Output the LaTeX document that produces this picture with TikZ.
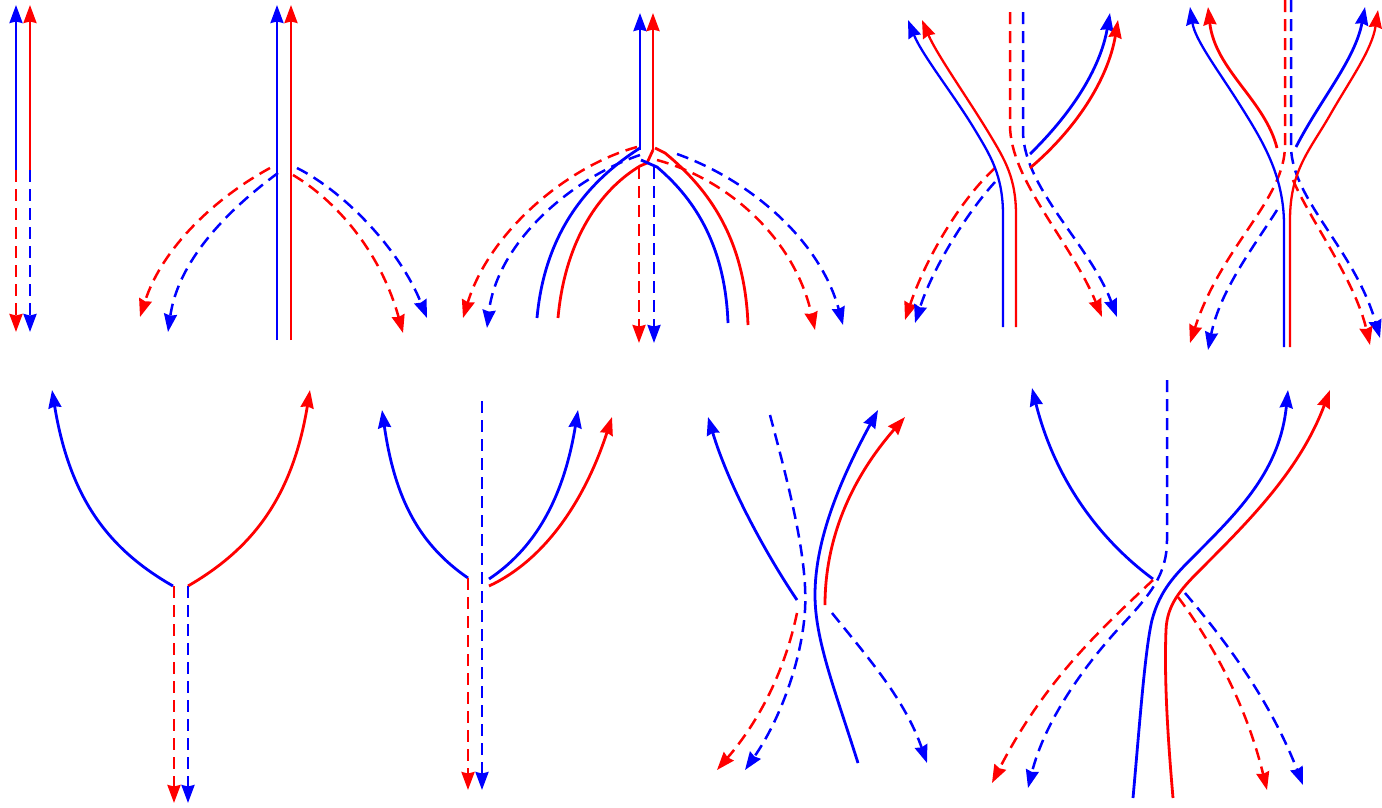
\documentclass[tikz,border=0pt]{standalone}
\usetikzlibrary{arrows.meta}
\begin{document}
\begin{tikzpicture}[x=1pt,y=-1pt,
  sol/.style={line width=2.8pt},
  vline/.style={line width=2.3pt},
  dsh/.style={line width=2.5pt, dash pattern=on 12pt off 7pt},
  tip/.style={-{Stealth[length=18pt,width=13pt,inset=1.5pt]}},
  every path/.style={line cap=butt}]
\useasboundingbox (0,0) rectangle (1382,807);
% ---------------- Panel 1 ----------------
\coordinate (p1b) at (16,170); \coordinate (p1r) at (30,170);
\draw[vline,blue,tip] (p1b) -- (16,5);
\draw[vline,red,tip] (p1r) -- (30,5);
\draw[dsh,red,tip] (p1b) -- (16,332);
\draw[dsh,blue,tip] (p1r) -- (30,332);
% ---------------- Panel 2 ----------------
\draw[vline,blue,tip] (277,340) -- (277,5);
\draw[vline,red,tip] (291,340) -- (291,5);
\draw[dsh,red,tip] (270,168) .. controls (215,198) and (162,248) .. (140,317);
\draw[dsh,blue,tip] (278,173) .. controls (225,212) and (178,262) .. (168,332);
\draw[dsh,blue,tip] (297,168) .. controls (345,192) and (400,250) .. (427,318);
\draw[dsh,red,tip] (293,175) .. controls (335,200) and (380,250) .. (403,333);
% ---------------- Panel 3 ----------------
\draw[dsh,red,tip] (637,147) .. controls (570,165) and (490,230) .. (463,318);
\draw[dsh,blue,tip] (640,155) .. controls (572,178) and (497,242) .. (487,328);
\draw[dsh,blue,tip] (677,154) .. controls (750,180) and (820,240) .. (843,325);
\draw[dsh,red,tip] (657,160) .. controls (730,180) and (795,240) .. (815,330);
\draw[dsh,red,tip] (639,167) -- (639,343);
\draw[dsh,blue,tip] (654,167) -- (654,343);
\draw[sol,blue,tip] (640,150) -- (640,13);
\draw[sol,red,tip] (653,150) -- (653,13);
\draw[sol,blue] (640,148) .. controls (590,180) and (545,230) .. (537,318);
\draw[sol,red] (653,150) -- (647,163) -- (640,166) .. controls (600,190) and (565,240) .. (558,318);
\draw[sol,blue] (641,160) -- (657,167) .. controls (690,195) and (725,240) .. (728,323);
\draw[sol,red] (655,148) -- (665,153) .. controls (710,190) and (745,240) .. (748,325);
% ---------------- Panel 4 ----------------
\draw[dsh,red,tip] (1010,12) -- (1010,125) .. controls (1010,180) and (1070,240) .. (1102,317);
\draw[dsh,blue,tip] (1023,12) -- (1023,133) .. controls (1025,190) and (1090,245) .. (1117,317);
\draw[dsh,red,tip] (995,168) .. controls (960,200) and (925,260) .. (905,320);
\draw[dsh,blue,tip] (995,182) .. controls (965,215) and (932,270) .. (915,323);
\draw[vline,blue,tip] (1003,327) -- (1003,215) .. controls (1003,175) and (990,155) .. (975,130)
   .. controls (954,95) and (922,55) .. (908,20);
\draw[vline,red,tip] (1016,327) -- (1016,215) .. controls (1016,178) and (1005,160) .. (990,135)
   .. controls (969,100) and (937,55) .. (922,20);
\draw[sol,blue,tip] (1030,154) .. controls (1070,115) and (1100,70) .. (1110,13);
\draw[sol,red,tip] (1030,168) .. controls (1075,130) and (1108,80) .. (1118,20);
% ---------------- Panel 5 ----------------
\draw[dsh,red,tip] (1285,0) -- (1285,145) .. controls (1285,200) and (1222,245) .. (1190,343);
\draw[dsh,blue,tip] (1291,0) -- (1291,147) .. controls (1292,200) and (1355,250) .. (1380,338);
\draw[dsh,blue,tip] (1277,210) .. controls (1255,245) and (1220,290) .. (1208,350);
\draw[dsh,red,tip] (1293,180) .. controls (1310,220) and (1355,280) .. (1370,345);
\draw[vline,blue,tip] (1284,347) -- (1284,225) .. controls (1284,175) and (1262,140) .. (1240,105)
   .. controls (1218,70) and (1195,40) .. (1190,7);
\draw[sol,red,tip] (1277,148) .. controls (1265,100) and (1215,70) .. (1208,7);
\draw[sol,blue,tip] (1296,147) .. controls (1320,100) and (1355,60) .. (1365,7);
\draw[vline,red,tip] (1290,347) -- (1290,220) .. controls (1290,170) and (1310,150) .. (1330,115)
   .. controls (1350,80) and (1372,50) .. (1378,10);
% ---------------- Panel 6 ----------------
\draw[sol,blue,tip] (173,586) .. controls (110,550) and (70,500) .. (52,390);
\draw[sol,red,tip] (188,586) .. controls (250,550) and (292,500) .. (310,390);
\draw[dsh,red,tip] (174,586) -- (174,803);
\draw[dsh,blue,tip] (188,586) -- (188,803);
% ---------------- Panel 7 ----------------
\draw[sol,blue,tip] (468,578) .. controls (420,545) and (395,500) .. (382,410);
\draw[dsh,blue,tip] (482,401) -- (482,790);
\draw[dsh,red,tip] (468,578) -- (468,790);
\draw[sol,blue,tip] (489,579) .. controls (540,545) and (565,490) .. (578,410);
\draw[sol,red,tip] (489,586) .. controls (545,560) and (585,500) .. (612,417);
% ---------------- Panel 8 ----------------
\draw[sol,blue,tip] (797,600) .. controls (770,560) and (730,490) .. (708,417);
\draw[dsh,blue,tip] (770,415) .. controls (790,490) and (808,560) .. (805,610)
   .. controls (802,660) and (780,720) .. (745,770);
\draw[dsh,red,tip] (797,613) .. controls (785,670) and (760,720) .. (717,770);
\draw[sol,blue,tip] (858,763) .. controls (835,690) and (815,640) .. (815,595)
   .. controls (815,540) and (840,480) .. (878,410);
\draw[sol,red,tip] (825,605) .. controls (825,540) and (850,480) .. (905,417);
\draw[dsh,blue,tip] (832,613) .. controls (870,660) and (905,700) .. (927,763);
% ---------------- Panel 9 ----------------
\draw[sol,blue,tip] (1153,579) .. controls (1100,540) and (1055,480) .. (1032,388);
\draw[dsh,blue,tip] (1167,380) -- (1167,540) .. controls (1167,575) and (1150,595) .. (1120,627)
   .. controls (1085,665) and (1045,720) .. (1028,788);
\draw[dsh,red,tip] (1153,580) .. controls (1100,630) and (1045,680) .. (992,783);
\draw[sol,blue,tip] (1133,798) .. controls (1140,720) and (1145,650) .. (1152,620)
   .. controls (1160,590) and (1175,575) .. (1195,555)
   .. controls (1240,510) and (1280,470) .. (1288,390);
\draw[sol,red,tip] (1173,798) .. controls (1168,740) and (1164,680) .. (1166,630)
   .. controls (1167,605) and (1180,590) .. (1200,570)
   .. controls (1250,520) and (1300,470) .. (1330,390);
\draw[dsh,red,tip] (1178,597) .. controls (1210,640) and (1245,700) .. (1267,790);
\draw[dsh,blue,tip] (1185,593) .. controls (1225,640) and (1270,700) .. (1303,785);
\end{tikzpicture}
\end{document}
